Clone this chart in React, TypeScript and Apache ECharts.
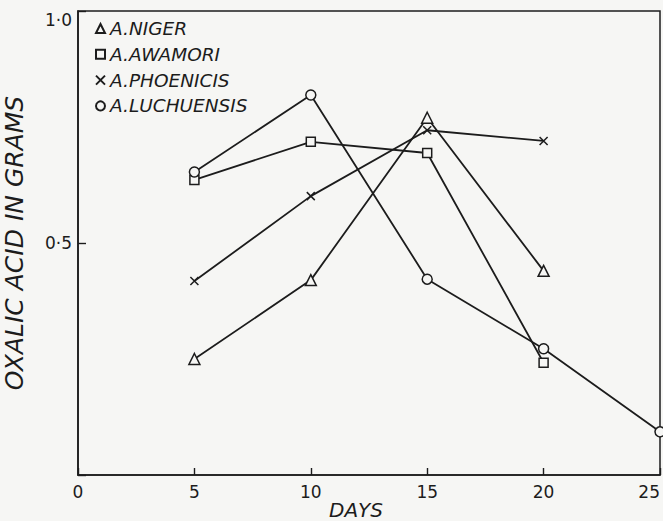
import React, { useEffect, useRef } from "react";
import * as echarts from "echarts";

const days = [5, 10, 15, 20, 25];
const seriesNames = ["A.NIGER", "A.AWAMORI", "A.PHOENICIS", "A.LUCHUENSIS"];
const niger = [0.25, 0.42, 0.77, 0.44];
const awamori = [0.636, 0.718, 0.694, 0.242];
const phoenicis = [0.418, 0.601, 0.743, 0.72];
const luchuensis = [0.653, 0.819, 0.422, 0.272, 0.093];
const xTicks = [0, 5, 10, 15, 20, 25];
const yTicks = [0, 0.5, 1.0];

const INK = "#1c1c1c";
const FONT = "DejaVu Sans";
const X_PATH = "path://M0,0L10,10M0,10L10,0";

export default function App() {
  const ref = useRef<HTMLDivElement>(null);
  useEffect(() => {
    if (!ref.current) return;
    const chart = echarts.init(ref.current, undefined, { renderer: "svg" });
    const toPts = (vals: number[]) => vals.map((v, i) => [days[i], v]);
    const symbols = ["triangle", "rect", X_PATH, "circle"];
    const sizes = [11, 9, 8, 10];
    const datas = [niger, awamori, phoenicis, luchuensis];
    const series = seriesNames.map((name, i) => ({
      name,
      type: "line",
      data: toPts(datas[i]),
      symbol: symbols[i],
      symbolSize: sizes[i],
      showAllSymbol: true,
      clip: false,
      lineStyle: { color: INK, width: 1.8 },
      itemStyle: { color: i === 2 ? "rgba(0,0,0,0)" : "#f6f6f4", borderColor: INK, borderWidth: 1.5 },
      emphasis: { disabled: true },
      z: 3,
    }));
    chart.setOption({
      animation: false,
      backgroundColor: "#f6f6f4",
      grid: {
        left: 78,
        right: 3,
        top: 11,
        bottom: 46,
        containLabel: false,
        outerBoundsMode: "none",
        show: true,
        borderColor: INK,
        borderWidth: 1.5,
        backgroundColor: "transparent",
      },
      legend: {
        orient: "vertical",
        left: 90,
        top: 14,
        itemWidth: 9,
        itemHeight: 9,
        itemGap: 6.8,
        data: seriesNames.map((n, i) => ({ name: n, icon: symbols[i] })),
        textStyle: {
          fontFamily: FONT,
          fontStyle: "italic",
          fontSize: 18.5,
          lineHeight: 18,
          color: INK,
        },
        selectedMode: false,
      },
      xAxis: {
        type: "value",
        min: xTicks[0],
        max: xTicks[xTicks.length - 1],
        interval: 5,
        name: "DAYS",
        nameLocation: "middle",
        nameGap: 25,
        nameMoveOverlap: false,
        nameTextStyle: {
          fontFamily: FONT,
          fontStyle: "italic",
          fontSize: 20,
          color: INK,
          padding: [0, 26, 0, 0],
        },
        axisLine: { show: true, lineStyle: { color: INK, width: 1.6 } },
        axisTick: { show: true, inside: true, length: 7, lineStyle: { color: INK, width: 1.4 } },
        axisLabel: {
          fontFamily: FONT,
          fontSize: 17,
          color: INK,
          margin: 8,
          alignMaxLabel: "right",
          formatter: (v: number) => (xTicks.includes(v) ? String(v) : ""),
        },
        splitLine: { show: false },
      },
      yAxis: {
        type: "value",
        min: yTicks[0],
        max: yTicks[yTicks.length - 1],
        interval: 0.5,
        name: "OXALIC ACID IN GRAMS",
        nameLocation: "middle",
        nameGap: 51,
        nameMoveOverlap: false,
        nameTextStyle: {
          fontFamily: FONT,
          fontStyle: "italic",
          fontSize: 25,
          color: INK,
        },
        axisLine: { show: true, lineStyle: { color: INK, width: 1.6 } },
        axisTick: { show: true, inside: true, length: 8, lineStyle: { color: INK, width: 1.4 } },
        axisLabel: {
          fontFamily: FONT,
          fontSize: 17,
          color: INK,
          margin: 6,
          formatter: (v: number) => {
            if (v === 0) return "";
            const s = v.toFixed(1).replace(".", "·");
            return v === 1 ? "{top|" + s + "}" : s;
          },
          rich: {
            top: { fontFamily: FONT, fontSize: 17, color: INK, padding: [18, 0, 0, 0] },
          },
        },
        splitLine: { show: false },
      },
      series,
    });
    return () => chart.dispose();
  }, []);
  return (
    <div
      ref={ref}
      style={{ position: "absolute", left: 0, top: 0, width: 663, height: 521 }}
    />
  );
}
